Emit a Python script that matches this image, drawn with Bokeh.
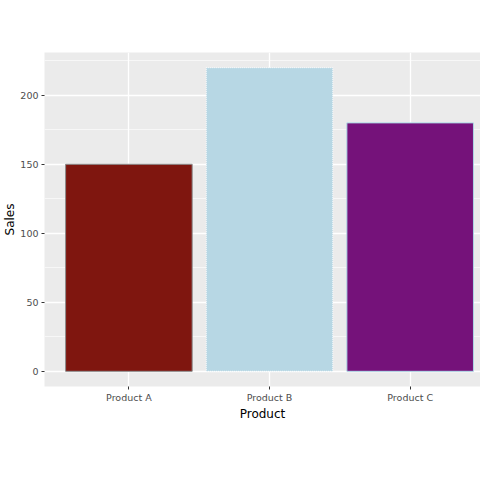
from bokeh.embed import file_html
from bokeh.models import FixedTicker, Range1d
from bokeh.plotting import figure
from bokeh.resources import INLINE

products = ["Product A", "Product B", "Product C"]
sales = [150, 220, 180]
fills = ["#7f160f", "#b7d7e4", "#75127a"]
outlines = ["#8c8c8c", "white", "#add8e6"]
dashes = ["solid", "1 1", "solid"]
y_ticks = [0, 50, 100, 150, 200]
y_minor = [25, 75, 125, 175, 225]

xs = [i + 1 for i in range(len(products))]

p = figure(
    frame_width=436, frame_height=334,
    x_range=Range1d(0.4, 3.5), y_range=Range1d(-11, 231),
    x_axis_label="Product", y_axis_label="Sales",
    output_backend="svg", toolbar_location=None,
    min_border_left=0, min_border_right=0,
    min_border_top=52, min_border_bottom=60,
)

for x, s, f, o, d in zip(xs, sales, fills, outlines, dashes):
    p.vbar(x=[x], top=[s], bottom=0, width=0.9, fill_color=f,
           line_color=o, line_width=1, line_dash=d)

p.background_fill_color = "#ebebeb"
p.border_fill_color = "white"
p.outline_line_color = None

p.xaxis.ticker = FixedTicker(ticks=xs)
p.xaxis.major_label_overrides = {x: n for x, n in zip(xs, products)}
p.yaxis.ticker = FixedTicker(ticks=y_ticks, minor_ticks=y_minor)

p.axis.axis_line_color = None
p.axis.major_tick_line_color = "#333333"
p.axis.major_tick_in = 0
p.axis.major_tick_out = 3
p.axis.minor_tick_line_color = None
p.axis.major_label_text_color = "#4d4d4d"
p.axis.major_label_text_font_size = "9.5px"
p.axis.major_label_text_font = "DejaVu Sans"
p.axis.major_label_standoff = 2
p.axis.axis_label_text_font = "DejaVu Sans"
p.axis.axis_label_text_font_size = "12px"
p.axis.axis_label_text_font_style = "normal"
p.axis.axis_label_text_color = "black"
p.yaxis.axis_label_standoff = 0
p.xaxis.axis_label_standoff = 1

p.grid.grid_line_color = "white"
p.grid.grid_line_width = 1.3
p.ygrid.minor_grid_line_color = "white"
p.ygrid.minor_grid_line_width = 0.6

open("out.html", "w").write(file_html(p, INLINE))
